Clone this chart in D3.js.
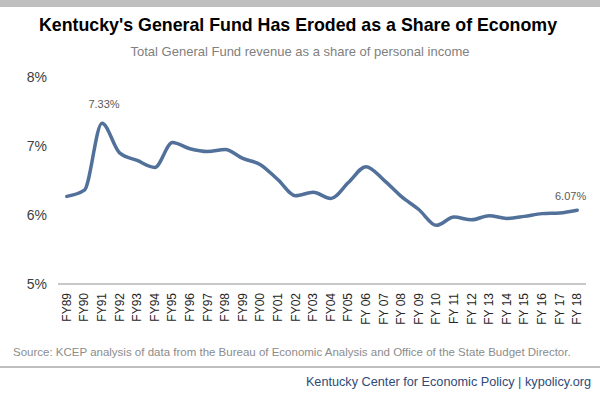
<!DOCTYPE html>
<html lang="en">
  <head>
    <meta charset="UTF-8" />
    <title>Kentucky's General Fund Has Eroded as a Share of Economy</title>
    <script src="https://d3js.org/d3.v7.min.js"></script>
    <style>
      body { margin: 0; background: #fff; }
      text { font-family: Arial, "Liberation Sans", sans-serif; }
    </style>
  </head>
  <body>
    <div id="chart"></div>
    <script>
      // fiscal years
      const years = ["FY89","FY90","FY91","FY92","FY93","FY94","FY95","FY96","FY97","FY98",
        "FY99","FY00","FY01","FY02","FY03","FY04","FY05","FY 06","FY 07","FY 08",
        "FY 09","FY 10","FY 11","FY 12","FY 13","FY 14","FY 15","FY 16","FY 17","FY 18"];
      // General Fund revenue as % of personal income
      const share = [6.27, 6.36, 7.33, 6.90, 6.79, 6.69, 7.05, 6.96, 6.92, 6.95,
        6.82, 6.73, 6.51, 6.28, 6.33, 6.24, 6.47, 6.70, 6.51, 6.27,
        6.08, 5.85, 5.97, 5.93, 5.99, 5.95, 5.98, 6.02, 6.03, 6.07];
      const yTicks = [5, 6, 7, 8];

      const W = 600, H = 395;
      const svg = d3.select("#chart").append("svg")
        .attr("width", W).attr("height", H);

      // top band
      svg.append("rect").attr("x", 0).attr("y", 0)
        .attr("width", W).attr("height", 7).attr("fill", "#bfbfbf");

      svg.append("text").attr("x", 298).attr("y", 31)
        .attr("text-anchor", "middle").attr("font-size", 17.8).attr("font-weight", "bold")
        .attr("fill", "#000")
        .text("Kentucky's General Fund Has Eroded as a Share of Economy");

      svg.append("text").attr("x", 300).attr("y", 56)
        .attr("text-anchor", "middle").attr("font-size", 13).attr("fill", "#808080")
        .text("Total General Fund revenue as a share of personal income");

      const x = d3.scaleBand().domain(years).range([58, 586]);
      const y = d3.scaleLinear().domain([5, 8]).range([284, 77]);

      // y labels
      svg.append("g").selectAll("text").data(yTicks).join("text")
        .attr("x", 47).attr("y", d => y(d)).attr("dy", "0.35em")
        .attr("text-anchor", "end").attr("font-size", 14).attr("fill", "#404040")
        .text(d => d + "%");

      // baseline
      svg.append("line").attr("x1", 58).attr("x2", 586)
        .attr("y1", y(5)).attr("y2", y(5))
        .attr("stroke", "#c8c8c8").attr("stroke-width", 2);

      // x labels
      svg.append("g").selectAll("text").data(years).join("text")
        .attr("transform", d => `translate(${x(d) + x.bandwidth() / 2 + 4},293) rotate(-90)`)
        .attr("text-anchor", "end").attr("font-size", 12).attr("fill", "#262626")
        .text(d => d);

      const cx = (d, i) => x(years[i]) + x.bandwidth() / 2;

      // smoothed line
      const line = d3.line()
        .x((d, i) => cx(d, i))
        .y(d => y(d))
        .curve(d3.curveMonotoneX);

      svg.append("path").datum(share)
        .attr("d", line)
        .attr("fill", "none")
        .attr("stroke", "#52719a")
        .attr("stroke-width", 3.5)
        .attr("stroke-linecap", "round");

      // point labels
      svg.append("text").attr("x", cx(share[2], 2) + 2).attr("y", y(share[2]) - 15)
        .attr("text-anchor", "middle").attr("font-size", 11).attr("fill", "#595959")
        .text(share[2].toFixed(2) + "%");
      const last = share.length - 1;
      svg.append("text").attr("x", cx(share[last], last) + 9).attr("y", y(share[last]) - 10)
        .attr("text-anchor", "end").attr("font-size", 11).attr("fill", "#595959")
        .text(share[last].toFixed(2) + "%");

      svg.append("text").attr("x", 13).attr("y", 356)
        .attr("font-size", 11.5).attr("fill", "#8c8c8c")
        .text("Source: KCEP analysis of data from the Bureau of Economic Analysis and Office of the State Budget Director.");

      svg.append("line").attr("x1", 0).attr("x2", W).attr("y1", 367).attr("y2", 367)
        .attr("stroke", "#bfbfbf").attr("stroke-width", 2);

      svg.append("text").attr("x", 591).attr("y", 386)
        .attr("text-anchor", "end").attr("font-size", 12.7).attr("fill", "#2f4a78")
        .text("Kentucky Center for Economic Policy | kypolicy.org");
    </script>
  </body>
</html>
